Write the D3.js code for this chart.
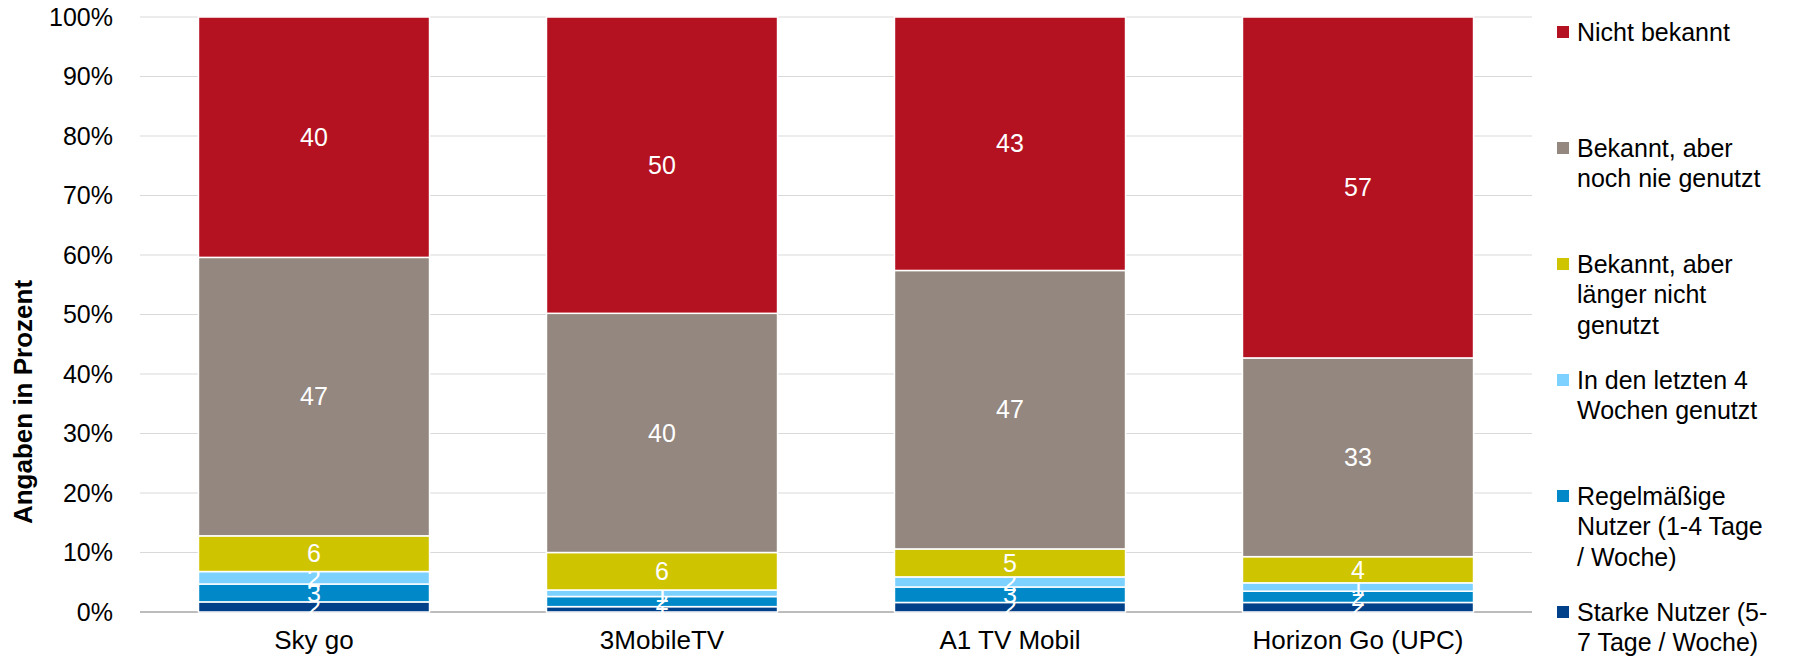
<!DOCTYPE html>
<html>
<head>
<meta charset="utf-8">
<script src="https://d3js.org/d3.v7.min.js"></script>
<style>
    body { margin: 0; background: #fff; }
    text { font-family: Arial, "Liberation Sans", sans-serif; }
</style>
</head>
<body>
<div id="chart"></div>
<script>
// categories on the x axis
let categories = ["Sky go", "3MobileTV", "A1 TV Mobil", "Horizon Go (UPC)"];

// series, bottom to top of each bar
let seriesNames = [
    "Starke Nutzer (5-7 Tage / Woche)",
    "Regelmäßige Nutzer (1-4 Tage / Woche)",
    "In den letzten 4 Wochen genutzt",
    "Bekannt, aber länger nicht genutzt",
    "Bekannt, aber noch nie genutzt",
    "Nicht bekannt"
];

// values per series (one per category)
let starke       = [1.7, 0.9, 1.6, 1.6];
let regelmaessig = [3.0, 1.7, 2.6, 1.9];
let letzte4      = [2.1, 1.1, 1.7, 1.4];
let laenger      = [6.0, 6.3, 4.7, 4.4];
let nochNie      = [46.8, 40.2, 46.8, 33.4];
let nichtBekannt = [40.4, 49.8, 42.6, 57.3];

let yTicks = [0, 10, 20, 30, 40, 50, 60, 70, 80, 90, 100];

// legend text, top to bottom, already wrapped like the original
let legendLines = [
    ["Nicht bekannt"],
    ["Bekannt, aber", "noch nie genutzt"],
    ["Bekannt, aber", "länger nicht", "genutzt"],
    ["In den letzten 4", "Wochen genutzt"],
    ["Regelmäßige", "Nutzer (1-4 Tage", "/ Woche)"],
    ["Starke Nutzer (5-", "7 Tage / Woche)"]
];

let colors = ["#00418a", "#0088c9", "#7dd1ff", "#cfc400", "#93877f", "#b41121"];

let allSeries = [starke, regelmaessig, letzte4, laenger, nochNie, nichtBekannt];

let data = categories.map(function (c, i) {
    let row = {category: c};
    seriesNames.forEach(function (s, k) { row[s] = allSeries[k][i]; });
    return row;
});

let margin = {top: 17, right: 265, bottom: 44, left: 140},
    width = 1797 - margin.left - margin.right,
    height = 656 - margin.top - margin.bottom;

let svg = d3.select("#chart")
    .append("svg")
    .attr("width", 1797)
    .attr("height", 656)
    .append("g")
    .attr("transform", "translate(" + margin.left + "," + margin.top + ")");

let x = d3.scaleBand()
    .domain(categories)
    .range([0, width])
    .paddingInner(0.336)
    .paddingOuter(0.168);

let y = d3.scaleLinear()
    .domain([0, 100])
    .range([height, 0]);

// gridlines
svg.append("g")
    .selectAll("line")
    .data(yTicks)
    .enter()
    .append("line")
    .attr("x1", 0)
    .attr("x2", width)
    .attr("y1", d => y(d))
    .attr("y2", d => y(d))
    .style("stroke", d => d === 0 ? "#a6a6a6" : "#d9d9d9")
    .style("stroke-width", d => d === 0 ? 1.5 : 1);

// y axis labels (no axis line, no ticks)
let yAxis = svg.append("g")
    .call(d3.axisLeft(y).tickValues(yTicks).tickSize(0).tickPadding(27).tickFormat(d => d + "%"));
yAxis.select(".domain").remove();
yAxis.selectAll("text")
    .style("font-size", "25px")
    .style("fill", "#000");

// x axis labels
let xAxis = svg.append("g")
    .attr("transform", "translate(0," + height + ")")
    .call(d3.axisBottom(x).tickSize(0).tickPadding(19));
xAxis.select(".domain").remove();
xAxis.selectAll("text")
    .style("font-size", "26px")
    .style("fill", "#000");

let stack = d3.stack().keys(seriesNames);
let stacked = stack(data);

let layers = svg.append("g")
    .selectAll("g")
    .data(stacked)
    .enter()
    .append("g")
    .style("fill", (d, i) => colors[i]);

layers.selectAll("rect")
    .data(d => d)
    .enter()
    .append("rect")
    .attr("x", d => x(d.data.category))
    .attr("width", x.bandwidth())
    .attr("y", d => y(d[1]))
    .attr("height", d => y(d[0]) - y(d[1]))
    .style("stroke", "#fff")
    .style("stroke-width", 1.5);

// value labels
layers.selectAll("text")
    .data(d => d)
    .enter()
    .append("text")
    .attr("x", d => x(d.data.category) + x.bandwidth() / 2)
    .attr("y", d => (y(d[0]) + y(d[1])) / 2)
    .attr("dy", "0.35em")
    .attr("text-anchor", "middle")
    .style("font-size", "25px")
    .style("fill", "#fff")
    .text(d => Math.round(d[1] - d[0]));

// y axis title
svg.append("text")
    .attr("transform", "translate(" + (23 - margin.left) + "," + (402 - margin.top) + ") rotate(-90)")
    .attr("dy", "0.35em")
    .attr("text-anchor", "middle")
    .style("font-size", "26px")
    .style("font-weight", "bold")
    .text("Angaben in Prozent");

// legend, top item is the top series
let legend = svg.append("g")
    .attr("transform", "translate(" + (1557 - margin.left) + "," + (-margin.top) + ")");

let legendItems = legend.selectAll("g")
    .data(legendLines)
    .enter()
    .append("g")
    .attr("transform", (d, i) => "translate(0," + (32 + i * 116) + ")");

legendItems.append("rect")
    .attr("x", 0)
    .attr("y", -6)
    .attr("width", 12)
    .attr("height", 12)
    .style("fill", (d, i) => colors[colors.length - 1 - i]);

legendItems.append("text")
    .attr("x", 20)
    .style("font-size", "25px")
    .style("fill", "#000")
    .selectAll("tspan")
    .data(d => d)
    .enter()
    .append("tspan")
    .attr("x", 20)
    .attr("y", (d, j) => j * 30.5)
    .attr("dy", "0.35em")
    .text(d => d);
</script>
</body>
</html>
